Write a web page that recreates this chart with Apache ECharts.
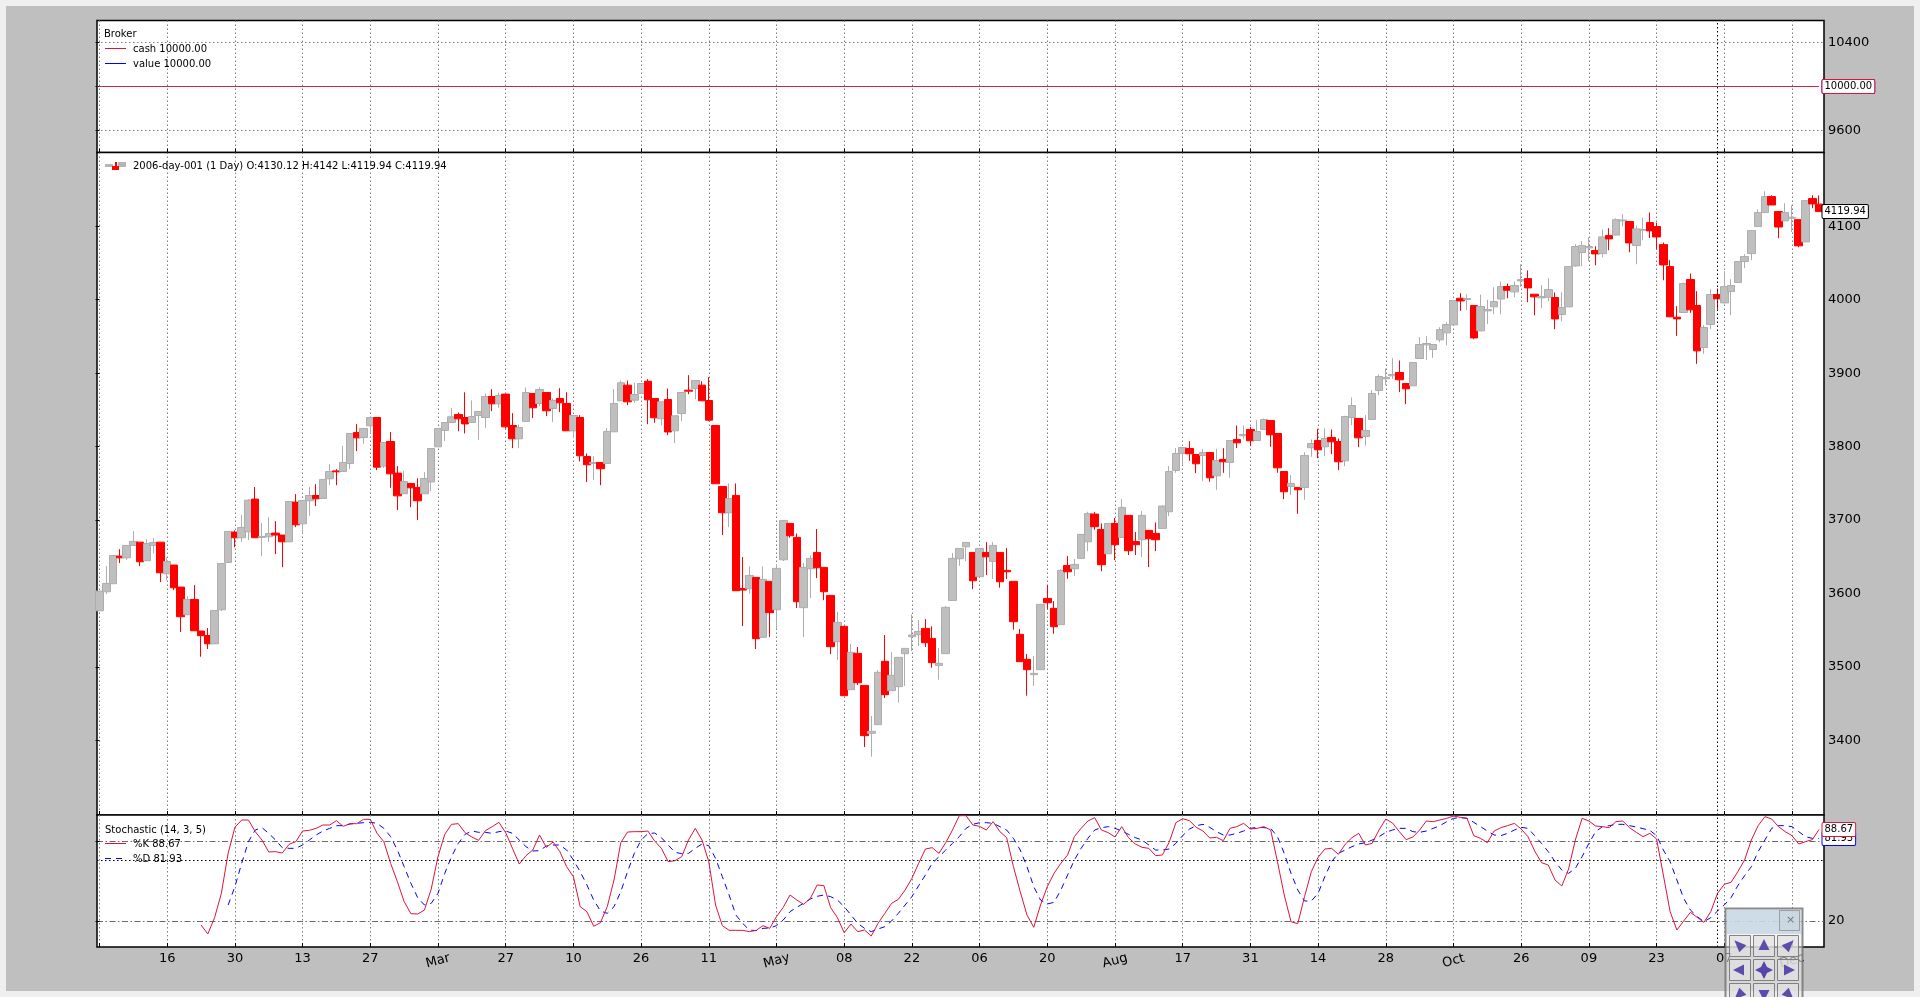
<!DOCTYPE html>
<html>
<head>
<meta charset="utf-8">
<title>2006-day-001</title>
<script src="https://cdn.jsdelivr.net/npm/echarts@6/dist/echarts.min.js"></script>
<style>
  html, body { margin: 0; padding: 0; background: #efefef; overflow: hidden; }
  #figure { position: absolute; left: 6px; top: 6px; width: 1908px; height: 985px; background: #bfbfbf; }
  #main { position: absolute; left: 0; top: 0; width: 1920px; height: 997px; }
</style>
</head>
<body>
<div id="figure"></div>
<div id="main"></div>
<script>
// daily candles
const opens = [3576.6,3602.5,3613.4,3651,3648.7,3665.5,3670,3644.7,3665.5,3670,
3627,3638.8,3608.8,3571.2,3592,3549,3543,3531.7,3578,3642.4,
3683.7,3676,3684,3728.6,3676.4,3677.3,3682.3,3679.6,3670.5,3724.5,
3695,3726.3,3733.5,3729.5,3756.3,3767,3766.2,3777,3819.3,3812.5,
3828.4,3839.7,3773.5,3807,3764,3735.9,3749.9,3744.5,3735.9,3752,
3799.8,3822,3832.9,3843.8,3839.7,3832.9,3842.4,3839.7,3868.3,3858.3,
3871.5,3828.8,3810.7,3834.3,3872.4,3858.8,3873.7,3852,3865.6,3858.8,
3821.6,3839.7,3786.6,3777,3778.5,3777,3820.2,3862.4,3883.7,3863.3,
3872.4,3889,3865.6,3838,3864.2,3821.6,3845,3876.9,3879,3883.7,
3862.8,3828.8,3745.8,3710,3733.6,3607,3606.6,3622,3540.4,3616.6,
3578,3646,3695.5,3676.5,3580.8,3633.8,3656,3635.6,3597.5,3534.5,
3555.4,3469.2,3518.6,3475,3409.8,3421.6,3507.8,3467.8,3473.3,3518.2,
3541.3,3544,3552.6,3539,3502,3518.2,3590.7,3647.4,3663.7,3656,
3623,3656,3643.8,3656,3631.6,3616.6,3544.5,3510.5,3489.6,3496.4,
3593.4,3579.9,3557.6,3638.3,3633.8,3647.9,3670.5,3708.2,3687.3,3654.2,
3695.5,3676.4,3706.4,3671,3673.3,3686,3681.9,3688.7,3711.4,3767.6,
3790.7,3797.5,3789.4,3788,3792,3760.3,3782.6,3778.5,3809.8,3814.8,
3823.4,3808.4,3823.4,3835.6,3817.9,3766.2,3745.8,3744.5,3744.5,3798.5,
3808.4,3799.8,3812.5,3807,3780.7,3839.7,3838.4,3813.9,3837,3876.4,
3892.3,3896.4,3900.9,3885.9,3882.8,3920,3938.6,3932.2,3945.4,3954.9,
3965.8,4002,4000.2,3992,3957.6,3984.8,3990.3,4001,4017.9,4010.7,
4025.6,4028.8,4007.5,4002.5,4003.4,4003,3979.8,3990.3,4046,4064.2,
4070.5,4066.9,4062.8,4087.3,4088,4107.3,4106.4,4073.7,4094.6,4105,
4099.6,4075,4045.1,3976.2,3982.6,4027.5,3992.1,3934.9,3966.2,4007,
3995.7,4011.1,4023.4,4052,4062.8,4099.6,4118.6,4140.4,4120,4107.3,
4110.9,4109,4078.7,4137.7,4130.12];
const highs = [3603.4,3637.4,3651.9,3660.5,3665.5,3685,3670,3674,3675.5,3670,
3649,3639,3608.8,3596.6,3611.5,3549,3553,3577,3641,3684.6,
3686,3706.8,3728.6,3745,3696,3704,3698.6,3679.6,3725.4,3735.4,
3726.7,3745,3749,3755.4,3776.2,3769.4,3801,3818,3830.6,3824.7,
3839.7,3839.7,3805.7,3819.8,3773.5,3766.7,3750,3757,3765.3,3797.5,
3825,3832.9,3852.4,3846.5,3874,3863,3848,3872.4,3878.3,3873.7,
3871.5,3845.6,3830.2,3880.5,3872.4,3881,3873.7,3865.6,3879.6,3874,
3842.4,3843,3790.7,3787,3778.5,3825.2,3878.3,3890,3890,3887,
3886,3892,3865.6,3861,3879,3842,3873.7,3897.3,3890,3889.1,
3894.6,3828.8,3745.8,3749.9,3749.9,3649.7,3637,3622,3637,3616.6,
3640,3699.6,3695.5,3681.9,3641.5,3652,3687.8,3635.6,3597.5,3574.9,
3555.4,3531.3,3527.2,3475,3433.4,3496,3543.6,3520.4,3513.2,3525.4,
3571.7,3564,3565.3,3555.4,3525.9,3583,3655,3661.5,3669.6,3656,
3661.5,3670,3670,3656,3661.9,3616.6,3551.7,3517.7,3515,3585.3,
3611.6,3589.8,3633.4,3651,3647,3680.5,3711.4,3710.9,3695.5,3695.5,
3703,3728.6,3706.4,3683.7,3712.3,3686,3696.9,3720.4,3773.5,3798,
3799,3807.5,3789.4,3796.6,3792,3797,3798,3808.4,3828.8,3828.8,
3827,3836,3838.3,3835.6,3817.9,3766.2,3761.3,3744.5,3792.5,3809.8,
3824.3,3824.7,3823.4,3811,3842,3866.9,3838.4,3842.9,3876.9,3898.2,
3906.4,3920.4,3917.3,3885.9,3914.5,3949,3950.4,3939,3962.6,3969.4,
3998.9,4008.9,4007.5,3992,4007,4000,4017,4024.7,4022,4024.7,
4048.3,4040,4007.5,4019.7,4029.3,4009.8,4010,4045.1,4075.5,4079.6,
4085,4072.8,4095.5,4097.3,4110.9,4116.3,4106.4,4100.9,4111.8,4118.6,
4105,4077.8,4053.8,3991.2,4023.4,4035.6,4011.6,3965.3,4014.3,4015.2,
4038.8,4027.9,4053,4061.9,4095,4123.1,4147.6,4142.2,4120,4131.3,
4128.6,4109,4134.9,4142.2,4142];
const lows = [3576.6,3599.3,3613.4,3641.5,3646,3665,3637.4,3644,3655,3615.6,
3618,3604.7,3547.6,3571,3549,3514,3524.5,3531,3576,3642.4,
3663,3670.5,3672.8,3676,3651,3670.5,3653.7,3636,3670.5,3690.5,
3681.8,3705.9,3719,3729,3748,3747.6,3766,3769.4,3794,3803.9,
3818,3768,3771,3744,3713.6,3735.9,3717.7,3700,3736,3739.5,
3799.8,3807.5,3832.9,3821,3818,3832.9,3809.3,3825.6,3848.3,3852.9,
3824.7,3798,3798,3834.3,3838.8,3855,3841.5,3833.4,3847,3821.6,
3811.6,3780,3751.7,3754.5,3747.6,3777,3820.2,3862.4,3856.5,3859.7,
3872.4,3830.6,3832.5,3829,3815.7,3805,3834.7,3871.4,3864.6,3862.4,
3834.7,3749.5,3679.6,3690.5,3603.9,3555.8,3599.8,3524.5,3540.4,3540.8,
3551.7,3644.2,3676,3580.3,3540.8,3593.9,3621,3591,3517.7,3509.6,
3461,3469.2,3475.5,3391.2,3378,3421.6,3457.9,3467.8,3451.5,3474.2,
3521.8,3528.6,3527.2,3499,3482.8,3518.2,3590.7,3637.9,3644.2,3606.1,
3623,3625.2,3619.8,3608,3619.8,3550.8,3507.3,3461,3474.2,3496.4,
3578.9,3545.4,3557.6,3620.2,3623.8,3647.9,3657.8,3686.9,3630.6,3654.2,
3645.6,3676.4,3652.4,3652.4,3649.7,3636,3657.8,3688.7,3705.5,3764.4,
3775.3,3780.7,3764,3753.5,3752.2,3741.3,3764.4,3757.6,3798,3810,
3800.7,3808.4,3823.4,3799.8,3764.4,3728.6,3734,3708.6,3727.7,3786.2,
3784.4,3787,3789.8,3768,3773.5,3829.3,3799.3,3801.2,3837,3870,
3883.7,3892.3,3874.2,3857.9,3882.8,3920,3917.7,3920.9,3942,3938,
3965.8,3984.8,3985.7,3946.3,3957.6,3967,3980.3,3980.3,4002,4003.4,
4017.5,3996.6,3978.9,3988.4,3998,3959.9,3970.8,3990.3,4044.7,4045.6,
4052.4,4047,4057.8,4067.4,4088,4100,4064.6,4048.3,4081,4084.1,
4068.7,4026.5,3976.7,3950.8,3982.6,3982.1,3912.7,3926.3,3960.3,3986.6,
3995,3978.9,4023,4042.9,4053.8,4099.6,4118.6,4129,4083.7,4107.3,
4092,4071.4,4078.7,4124.5,4119.94];
const closes = [3603.4,3613.8,3651.9,3648.7,3665.5,3671,3643.3,3668.2,3669.6,3628.3,
3643.7,3607.9,3568.5,3592,3549.4,3542.6,3531.7,3577,3641,3684.6,
3676,3690,3727.2,3676,3677.8,3681.8,3679.6,3670.5,3725.4,3693.6,
3726.7,3733.5,3729,3755.4,3766.2,3765.8,3778.5,3818,3812,3824.7,
3839.7,3772.1,3805.7,3763,3733,3752.6,3744,3726.3,3756.7,3797.5,
3824.7,3832.9,3840.6,3837.9,3831,3841,3847.9,3868.3,3858.3,3869.6,
3827,3810.7,3826,3873.7,3852.9,3877.8,3848.8,3862.8,3859.7,3821.6,
3842.4,3787.6,3775.3,3778.5,3769.9,3820.7,3858.8,3886.9,3861,3871,
3886,3863.7,3839.3,3861,3820,3842,3873.7,3875.5,3890,3862.4,
3836.1,3749.5,3710,3729.5,3603.9,3604.8,3624.7,3538.6,3619.3,3574,
3634.3,3699.6,3678.7,3588.9,3635.6,3647.9,3635.2,3602.5,3527.7,3560.8,
3461,3520,3478.7,3406.6,3412.5,3492.8,3462.4,3488.7,3513.2,3525.4,
3543.6,3548.5,3533.1,3505.9,3505,3581.2,3647.9,3661.5,3669.6,3617.5,
3661.5,3650.1,3665.6,3616.1,3629.7,3561.7,3507.3,3496.4,3491.4,3585.3,
3587.5,3554.9,3631.5,3629.7,3639.7,3680.5,3709.1,3691,3639.3,3695.5,
3666.5,3717.3,3658.3,3666.5,3706.4,3674.6,3673.3,3719.1,3766.2,3790.7,
3798.9,3790.3,3776.7,3792,3757.6,3781.2,3779.4,3808.4,3805.2,3816.6,
3808,3820.7,3837,3816.1,3771.2,3738.6,3749.9,3741.3,3788,3804.3,
3795.7,3811.1,3806.6,3779.4,3841,3856,3812,3822,3872.4,3895.5,
3894.1,3898.2,3891,3878.7,3914.5,3939,3940.4,3939,3959.4,3966.2,
3998.9,3998.4,4001.6,3948,3990.7,3986.6,3997.5,4017.9,4012.9,4019.3,
4027.4,4016.1,4003.9,4004.3,4013.9,3973.9,3989.4,4045.1,4072.4,4073.7,
4072.4,4062.4,4085.5,4082.8,4109,4108.6,4077.3,4096.4,4095.5,4093.7,
4085.5,4047.4,3976.7,3973.9,4022,3986.2,3930.4,3962.2,4007,4001.2,
4017.9,4019.3,4052,4058.7,4094.1,4118.6,4140.4,4129,4099,4118.6,
4112.3,4073.3,4134.9,4130.4,4119.94];

// stochastic, %K starts at day 15 and %D at day 19
const kStart = 15;
const kValues = [17,10.25,22.5,40.75,70.75,90.25,95.75,95.75,87,80.75,
71.75,72,71,77.5,79.5,87.5,88,89.5,92,92,
95.25,91,93,93,96.25,96.25,85.75,79.5,63.25,49.5,
34.5,25.5,25.25,28.25,44,68.25,85,92.5,93,86.25,
83,80.5,87.75,90.75,94,86.25,74.5,62.75,69,73.25,
84.5,75.25,79.25,72,60.75,53.25,30.75,27,16,18.75,
30.75,50.75,78.75,86.75,87,87,87.5,80,74.5,64.5,
65.25,68.25,80.75,89.5,80.75,64.5,32,16.5,13,13,
13,12,13,16.5,14.5,23.25,30.25,39.5,35.75,32.5,
37,47,46.5,30,22.5,11.25,17.75,12,13.25,8.75,
18.25,25.75,33.25,36.25,43.25,52,63.25,74,75,70.75,
78.75,88.25,99,99,92,91,88.25,94.5,87,82.5,
60.75,42,24.5,15.25,32,45.75,55.75,63.25,69.5,83.25,
89.5,95,97.5,88.25,86.25,83,90.75,82.5,77.75,75.25,
74.5,69,69.5,79,93.75,96.75,95.25,90.25,87.5,82.25,
82.75,80.25,89.5,90.75,93.25,89,89.5,90.75,88.25,64.5,
39.5,19.5,18,38.25,57,67.75,74,74.5,70,77.5,
82.5,85.75,77,78.25,88.25,96.5,93.5,87,81,83,
88.25,95,94.5,95.75,97,98.75,97.75,97,84,82,
78.75,87.5,90,91.5,93.25,89,83.25,72.5,63.75,62,
50.75,46.25,59,80.75,97,95,91.25,90.75,90,94.5,
95,90,86.5,83.25,85.75,81.5,54.5,27,13.25,20,
26.5,22.75,19,27,40.75,47.5,49,57,65.75,80.75,
91.5,98.25,96.5,90.75,87,84,77.75,79.5,81,88.67];
const dStart = 19;
const dValues = [32,45.75,63.25,79.5,88.25,90,85.75,80.75,75,74.5,
74.5,77,80.75,84.5,87.5,89.5,91.5,91.5,92.75,93.25,
93.75,94,93.25,89.5,83.25,73.25,60.75,48.25,37.5,32,
33.25,40.75,55.75,68.25,78.25,85,87.5,86.5,86.5,85.75,
87,87.5,85.75,80.75,75.75,72.5,72.75,76.25,77,77,
73.25,65.75,57,47,35.75,27.5,25.75,30.75,42,57,
70.75,80.75,85.5,86,82.5,77,71.5,70.5,70.75,74.5,
77.75,76.5,67,53.25,39.5,24.5,18.25,13.25,12.75,14.5,
14.75,16.5,20.75,27,30.25,33.25,36.5,38.5,39.5,38.25,
35.75,30.75,24.5,18.25,14.5,12,14,15.75,20,25.75,
32,38.25,46.5,54.5,63.25,68.25,73.25,78.25,83.25,89.5,
92.5,93.75,93.75,93.25,90.75,88.25,82,73.25,60.75,45.75,
35.75,32.75,34,43.25,54.5,65.75,74.5,82,88.25,90,
90.75,89.5,87.5,85,82.5,80.75,77,73.25,73.25,74,
78.25,84,89,91.5,92.5,90.25,87,84.5,84.5,85.75,
87.5,89.5,90.25,90,89.5,83.25,70.75,55.75,43.25,35,
35,40.75,53.25,64.5,70.75,73.25,75.75,77.75,78.75,80.75,
83.25,86.5,88.25,89.5,89.5,87,86.5,87.5,89.5,91.5,
94.5,97,97.5,97,94,90.75,87.5,84.5,84,85.75,
88.25,90.25,89.5,84,78.25,72,64.5,58.25,55.75,59.5,
68.25,78.25,87,90.75,91.5,92.5,92.5,91.5,90.5,89.25,
88,84,73.25,64.5,50.75,37,28.25,23.25,19.5,22.5,
27.5,32,37.5,46.5,54,60.75,72,80.75,89.5,91.5,
91.5,90.75,87,83.25,82,81.93];

// broker lines stay flat for the whole run
const brokerDays = [0, 254];
const cashValues = [10000, 10000];
const valueValues = [10000, 10000];

// x axis ticks: every tenth day, month names go slanted
const tickDays = [0,10,20,30,40,50,60,70,80,90,100,110,120,130,140,150,160,170,180,190,200,210,220,230,240,250];
const dayLabels = {10:'16',20:'30',30:'13',40:'27',60:'27',70:'10',80:'26',90:'11',110:'08',120:'22',130:'06',140:'20',160:'17',170:'31',180:'14',190:'28',210:'26',220:'09',230:'23',240:'07'};
const monthLabels = {50:'Mar',100:'May',150:'Aug',200:'Oct',250:'Dec'};

const brokerTicks = [9600, 10000, 10400];
const brokerLabels = [9600, 10400];
const priceLabels = [3400,3500,3600,3700,3800,3900,4000,4100];
const stochTicks = [20, 80];
const stochLabels = [20];

const crossDay = 238.9;
const crossStoch = 65.5;

const X_MIN = -0.37, X_MAX = 254.73;
const FONT = '"DejaVu Sans"';
const CRIMSON = '#dc143c';
const GRID_DOT = { color: '#808080', width: 1, type: [1.5, 2.5] };

function xAxisFor(grid, extra) {
  return Object.assign({
    type: 'value', gridIndex: grid, min: X_MIN, max: X_MAX, position: 'bottom',
    axisLine: { show: false },
    axisTick: { show: true, inside: true, length: 4, customValues: tickDays, lineStyle: { color: '#000' } },
    axisLabel: { show: false },
    splitLine: { show: true, lineStyle: GRID_DOT }
  }, extra);
}

function yAxisFor(grid, min, max, ticks, labels, gridLine) {
  return {
    type: 'value', gridIndex: grid, min: min, max: max, position: 'right', scale: true,
    axisLine: { show: false },
    axisTick: { show: true, inside: true, length: 4, customValues: ticks, lineStyle: { color: '#000' } },
    axisLabel: { show: true, customValues: labels, formatter: v => String(v), margin: 4, fontFamily: FONT, fontSize: 13, color: '#000' },
    splitLine: { show: !!gridLine, lineStyle: gridLine }
  };
}

// white box with a value, hanging off the right edge of a panel
function tag(value, text, border) {
  return {
    silent: true, symbol: 'circle', symbolSize: 1, itemStyle: { color: 'transparent' },
    data: [{ coord: [X_MAX, value] }],
    label: {
      show: true, position: 'right', distance: 0, offset: [-2, 0], formatter: text,
      fontFamily: FONT, fontSize: 10, color: '#000', backgroundColor: '#fff',
      borderColor: border, borderWidth: 1, borderRadius: 1, padding: [2, 2, 1, 2]
    }
  };
}

function crossLine(items) {
  return {
    silent: true, symbol: 'none', animation: false, precision: 2,
    label: { show: false },
    lineStyle: { color: '#000', width: 1, type: [1.5, 2.5], opacity: 1 },
    data: items
  };
}

// legends sit in the panel corners
function legendText(x, y, text) {
  return { type: 'text', x: x, y: y + 1, z: 50, style: { text: text, fill: '#000', font: '10px ' + FONT, verticalAlign: 'middle' } };
}
function legendLine(y, color, dash) {
  return { type: 'line', z: 50, shape: { x1: 105, y1: y, x2: 126, y2: y }, style: { stroke: color, lineWidth: 1, lineDash: dash || null } };
}
function box(x, y, w, h, color, stroke) {
  return { type: 'rect', z: 50, shape: { x: x, y: y, width: w, height: h }, style: { fill: color, stroke: stroke || null } };
}

const legends = [
  legendText(104, 33.5, 'Broker'),
  legendLine(48.5, CRIMSON), legendText(133, 48.5, 'cash 10000.00'),
  legendLine(63.5, '#0000ff'), legendText(133, 63.5, 'value 10000.00'),
  box(105, 164, 8, 3, '#b5b5b5'), box(118, 162, 8, 5, '#b5b5b5'),
  box(112, 166, 7, 4, '#ff0000'), box(115, 162, 2, 5, '#ff0000'),
  legendText(133, 165.5, '2006-day-001 (1 Day) O:4130.12 H:4142 L:4119.94 C:4119.94'),
  legendText(105, 829.5, 'Stochastic (14, 3, 5)'),
  legendLine(843.5, CRIMSON), legendText(133, 843.5, '%K 88.67'),
  legendLine(858.5, '#0000ff', [6, 5]), legendText(133, 858.5, '%D 81.93')
];

// floating navigation toolbar, bottom right
const PURPLE = '#5546a8';
function panelRect(x, y, w, h, fill, stroke, lw) {
  return { type: 'rect', z: 200, shape: { x: x, y: y, width: w, height: h }, style: { fill: fill, stroke: stroke, lineWidth: lw || 1 } };
}
function arrow(cx, cy, deg, corner) {
  const pts = corner ? [[8, 0], [-4, -5], [-4, 5]] : [[7, 0], [-4, -5.5], [-4, 5.5]];
  return {
    type: 'polygon', z: 201, x: cx, y: cy, rotation: -deg * Math.PI / 180,
    shape: { points: pts }, style: { fill: PURPLE, opacity: 0.95 }
  };
}
const btnX = [1729.5, 1753.5, 1777.5], btnY = [935.5, 959.5, 983.5];
const toolbar = [
  panelRect(1725.5, 908.5, 77, 100, 'rgba(235,235,235,0.55)', 'rgba(110,110,110,0.8)', 2),
  panelRect(1727, 910, 74, 24, 'rgba(196,214,228,0.8)', null),
  panelRect(1779.5, 910.5, 20, 20, 'rgba(200,210,218,0.4)', 'rgba(120,120,120,0.6)'),
  { type: 'text', z: 201, x: 1786, y: 920, style: { text: '×', fill: '#777', font: '11px ' + FONT, verticalAlign: 'middle' } }
];
btnY.forEach(y => btnX.forEach(x => toolbar.push(panelRect(x, y, 21, 21, 'rgba(225,225,225,0.7)', 'rgba(120,120,120,0.9)', 1))));
[[0, 0, 225, 1], [1, 0, 270, 0], [2, 0, 315, 1], [0, 1, 180, 0], [2, 1, 0, 0], [0, 2, 135, 1], [1, 2, 90, 0], [2, 2, 45, 1]].forEach(b => {
  toolbar.push(arrow(btnX[b[0]] + 10.5, btnY[b[1]] + 10.5, b[2], b[3]));
});
toolbar.push({
  type: 'polygon', z: 201,
  shape: { points: [[1764, 961], [1767, 967], [1773, 970], [1767, 973], [1764, 979], [1761, 973], [1755, 970], [1761, 967]] },
  style: { fill: PURPLE }
});

const chart = echarts.init(document.getElementById('main'));
chart.setOption({
  animation: false,
  backgroundColor: 'transparent',
  textStyle: { fontFamily: FONT },
  grid: [
    { left: 97, width: 1727, top: 20.5, height: 132, show: true, backgroundColor: '#fff', borderColor: '#000', borderWidth: 1.5 },
    { left: 97, width: 1727, top: 152.5, height: 662.5, show: true, backgroundColor: '#fff', borderColor: '#000', borderWidth: 1.5 },
    { left: 97, width: 1727, top: 815, height: 132, show: true, backgroundColor: '#fff', borderColor: '#000', borderWidth: 1.5 }
  ],
  xAxis: [
    xAxisFor(0),
    xAxisFor(1),
    xAxisFor(2, {
      axisLabel: { show: true, customValues: tickDays.filter(d => dayLabels[d]), formatter: v => dayLabels[v] || '', margin: 5, fontFamily: FONT, fontSize: 13, color: '#000' }
    }),
    xAxisFor(2, {
      axisTick: { show: false }, splitLine: { show: false },
      axisLabel: { show: true, customValues: tickDays.filter(d => monthLabels[d]), formatter: v => monthLabels[v] || '', rotate: 15, align: 'center', verticalAlign: 'middle', margin: 14, fontFamily: FONT, fontSize: 13, color: '#000' }
    })
  ],
  yAxis: [
    yAxisFor(0, 9400, 10600, brokerTicks, brokerLabels, GRID_DOT),
    yAxisFor(1, 3298.6, 4200.4, priceLabels, priceLabels, null),
    yAxisFor(2, 0.5, 99.5, stochTicks, stochLabels, { color: '#6a6a6a', width: 1, type: [6, 2.5, 1.5, 2.5] })
  ],
  series: [
    {
      name: 'value', type: 'line', xAxisIndex: 0, yAxisIndex: 0, showSymbol: false, silent: true,
      data: brokerDays.map((d, i) => [d, valueValues[i]]),
      lineStyle: { color: '#0000ff', width: 1 },
      markPoint: tag(10000, '10000.00', '#0000ff')
    },
    {
      name: 'cash', type: 'line', xAxisIndex: 0, yAxisIndex: 0, showSymbol: false, silent: true,
      data: brokerDays.map((d, i) => [d, cashValues[i]]),
      lineStyle: { color: CRIMSON, width: 1 },
      markPoint: tag(10000, '10000.00', CRIMSON),
      markLine: crossLine([{ xAxis: crossDay }, { yAxis: 10000, lineStyle: { color: '#808080', width: 1, type: [1.5, 2.5], opacity: 0.45 } }])
    },
    {
      name: 'price', type: 'candlestick', xAxisIndex: 1, yAxisIndex: 1, silent: true,
      data: opens.map((o, i) => [i, o, closes[i], lows[i], highs[i]]),
      encode: { x: 0, y: [1, 2, 3, 4] },
      barWidth: 8,
      barMaxWidth: 10,
      itemStyle: { color: '#bfbfbf', borderColor: '#adadad', color0: '#ff0000', borderColor0: '#ff0000', borderWidth: 1 },
      markPoint: tag(closes[254], '4119.94', '#000'),
      markLine: crossLine([{ xAxis: crossDay }])
    },
    {
      name: '%D', type: 'line', xAxisIndex: 2, yAxisIndex: 2, showSymbol: false, silent: true,
      data: dValues.map((v, i) => [i + dStart, v]),
      lineStyle: { color: '#0000ff', width: 1, type: [6, 5] },
      markPoint: tag(dValues[dValues.length - 1], '81.93', '#0000ff')
    },
    {
      name: '%K', type: 'line', xAxisIndex: 2, yAxisIndex: 2, showSymbol: false, silent: true,
      data: kValues.map((v, i) => [i + kStart, v]),
      lineStyle: { color: CRIMSON, width: 1 },
      markPoint: tag(kValues[kValues.length - 1], '88.67', CRIMSON),
      markLine: crossLine([{ xAxis: crossDay }, { yAxis: crossStoch }])
    }
  ],
  graphic: legends.concat(toolbar)
});
</script>
</body>
</html>
